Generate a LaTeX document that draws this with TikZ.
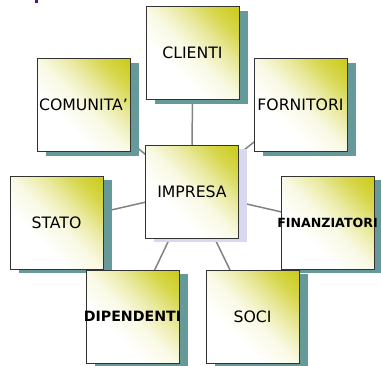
\documentclass[tikz,border=0pt]{standalone}
\usepackage{fontspec}
\setmainfont{DejaVu Sans}
\usetikzlibrary{shadows,backgrounds}
\definecolor{ylw}{RGB}{204,204,30}
\definecolor{tealshade}{RGB}{102,153,153}
\definecolor{lavshade}{RGB}{216,216,238}
\definecolor{linkgray}{RGB}{130,130,130}
\definecolor{titlepurple}{RGB}{80,20,130}
\pgfdeclarehorizontalshading{boxglow}{100bp}{color(0bp)=(white); color(36bp)=(white); color(50bp)=(ylw!12); color(62bp)=(ylw!42); color(74bp)=(ylw!80); color(84bp)=(ylw); color(100bp)=(ylw)}
\newcommand{\spill}[1]{\makebox[0pt]{#1}}
\begin{document}
\begin{tikzpicture}
[ x=1pt, y=-1pt
, card/.style={rectangle, draw=black!80, line width=0.8pt, minimum size=93pt, inner sep=0pt, shading=boxglow, shading angle=45, font=\fontsize{15.7}{18}\selectfont}
, party/.style={card, drop shadow={shadow xshift=9pt, shadow yshift=-4pt, fill=tealshade, opacity=1}}
, core/.style={card, drop shadow={shadow xshift=8pt, shadow yshift=-4pt, fill=lavshade, opacity=1}}
, boldtag/.style={font=\bfseries\fontsize{#1}{16}\selectfont}
, link/.style={draw=linkgray, line width=1.5pt}
]
\useasboundingbox (0,0) rectangle (381,365);
\fill[titlepurple] (34.5,0) rectangle (38,3);
% the ring of stakeholders round the firm
\node (clienti) [party] at (192.5,53) {CLIENTI};
\node (comunita) [party] at (83.5,105) {COMUNITA’};
\node (fornitori) [party] at (300.5,105) {FORNITORI};
\node (impresa) [core] at (192,191.5) {IMPRESA};
\node (stato) [party] at (56.5,222.5) {STATO};
\node (finanziatori) [party, boldtag=12.6] at (327.5,222.5) {\spill{FINANZIATORI}};
\node (dipendenti) [party, boldtag=14.2] at (132.5,316.5) {\spill{DIPENDENTI}};
\node (soci) [party] at (252.5,316.5) {SOCI};
% spokes
\begin{scope}[on background layer]
\foreach \n in {clienti,comunita,fornitori,stato,finanziatori,dipendenti,soci}
  \draw [link] (impresa.center) -- (\n.center);
\end{scope}
\end{tikzpicture}
\end{document}
